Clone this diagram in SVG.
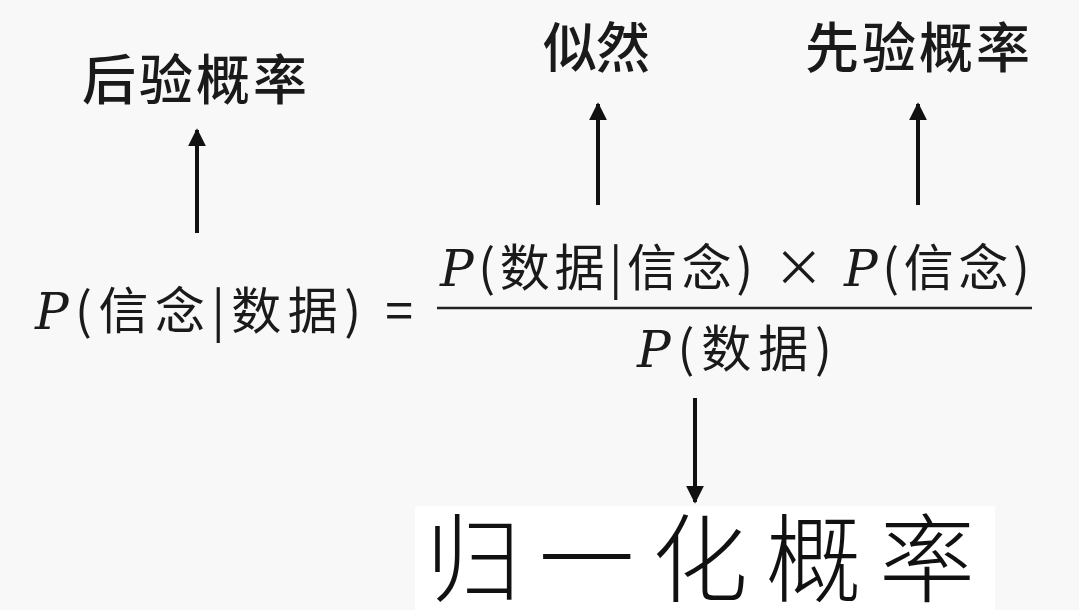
<svg xmlns="http://www.w3.org/2000/svg" width="1079" height="610" viewBox="0 0 1079 610">
<defs>
<marker id="ah" viewBox="0 0 10 10" refX="9" refY="5" markerWidth="4.5" markerHeight="4.5" orient="auto"><path d="M0,0 L10,5 L0,10 z" fill="#111"/></marker>
<style>
.lbl{font-family:"Noto Sans CJK SC",sans-serif;font-size:54px;font-weight:500;fill:#1a1a1a}
.f{font-family:"Noto Sans CJK SC",sans-serif;font-size:50px;fill:#1a1a1a}
.p{font-family:"DejaVu Serif","Liberation Serif",serif;font-style:italic}
.c{stroke:#111;stroke-width:4;fill:none;marker-end:url(#ah)}
</style>
</defs>
<rect width="1079" height="610" fill="#f8f8f8"/>
<rect x="415" y="506" width="580" height="104" fill="#fff"/>
<g id="n-post"><text class="lbl" x="82" y="100" textLength="225" lengthAdjust="spacing">后验概率</text></g>
<g id="n-like"><text class="lbl" x="543" y="68" textLength="107" lengthAdjust="spacing">似然</text></g>
<g id="n-prior"><text class="lbl" x="805" y="68" textLength="225" lengthAdjust="spacing">先验概率</text></g>
<g id="n-formula">
<text class="f" x="35" y="329" textLength="378" lengthAdjust="spacing"><tspan class="p">P</tspan>(信念|数据) =</text>
<text class="f" x="440" y="286" textLength="590" lengthAdjust="spacing"><tspan class="p">P</tspan>(数据|信念) × <tspan class="p">P</tspan>(信念)</text>
<line x1="437" y1="308" x2="1032" y2="308" stroke="#222" stroke-width="2.5"/>
<text class="f" x="637" y="367" textLength="195" lengthAdjust="spacing"><tspan class="p">P</tspan>(数据)</text>
</g>
<g id="n-norm"><text x="425" y="594" font-family="Noto Sans CJK SC,sans-serif" font-size="96" font-weight="300" fill="#111" textLength="550" lengthAdjust="spacing">归一化概率</text></g>
<g id="connectors">
<line class="c" x1="197" y1="233" x2="197" y2="130"/>
<line class="c" x1="598" y1="205" x2="598" y2="104"/>
<line class="c" x1="918" y1="205" x2="918" y2="104"/>
<line class="c" x1="695" y1="398" x2="695" y2="502"/>
</g>
</svg>
